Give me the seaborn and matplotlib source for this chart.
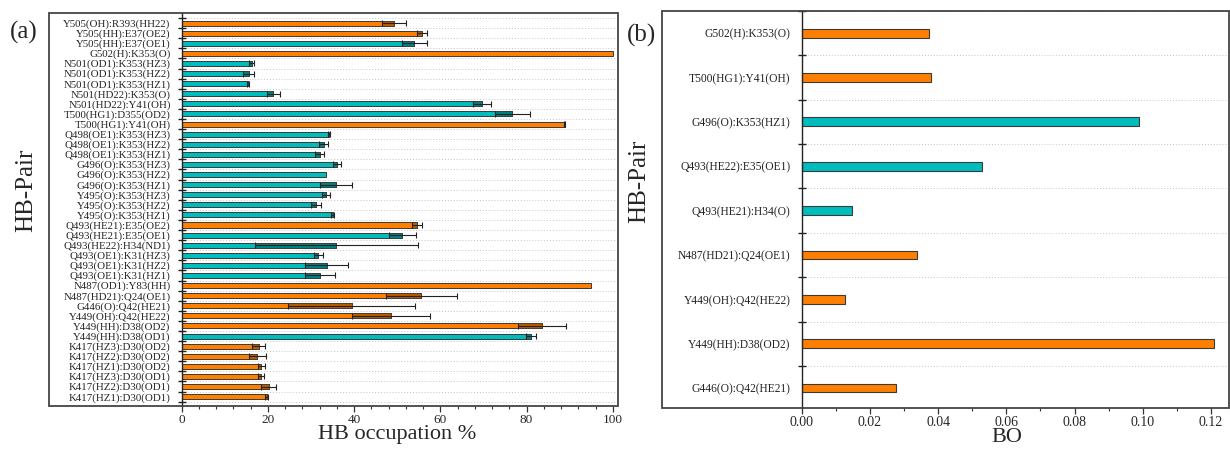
import numpy as np
import pandas as pd
import matplotlib
matplotlib.use("Agg")
import matplotlib.pyplot as plt
import seaborn as sns
from matplotlib.patches import Rectangle
from matplotlib.ticker import FixedLocator

# --- data (a) : HB occupation % (mean, std) ---
pairs_a = [
    "Y505(OH):R393(HH22)", "Y505(HH):E37(OE2)", "Y505(HH):E37(OE1)", "G502(H):K353(O)",
    "N501(OD1):K353(HZ3)", "N501(OD1):K353(HZ2)", "N501(OD1):K353(HZ1)", "N501(HD22):K353(O)",
    "N501(HD22):Y41(OH)", "T500(HG1):D355(OD2)", "T500(HG1):Y41(OH)", "Q498(OE1):K353(HZ3)",
    "Q498(OE1):K353(HZ2)", "Q498(OE1):K353(HZ1)", "G496(O):K353(HZ3)", "G496(O):K353(HZ2)",
    "G496(O):K353(HZ1)", "Y495(O):K353(HZ3)", "Y495(O):K353(HZ2)", "Y495(O):K353(HZ1)",
    "Q493(HE21):E35(OE2)", "Q493(HE21):E35(OE1)", "Q493(HE22):H34(ND1)", "Q493(OE1):K31(HZ3)",
    "Q493(OE1):K31(HZ2)", "Q493(OE1):K31(HZ1)", "N487(OD1):Y83(HH)", "N487(HD21):Q24(OE1)",
    "G446(O):Q42(HE21)", "Y449(OH):Q42(HE22)", "Y449(HH):D38(OD2)", "Y449(HH):D38(OD1)",
    "K417(HZ3):D30(OD2)", "K417(HZ2):D30(OD2)", "K417(HZ1):D30(OD2)", "K417(HZ3):D30(OD1)",
    "K417(HZ2):D30(OD1)", "K417(HZ1):D30(OD1)",
]
occ_mean = [49.3, 55.8, 54.0, 100.0, 16.2, 15.5, 15.4, 21.2, 69.6, 76.7, 88.8, 34.1,
            32.9, 32.0, 36.0, 33.4, 35.8, 33.4, 31.1, 35.0, 54.6, 51.2, 35.9, 31.7,
            33.6, 32.0, 95.0, 55.6, 39.4, 48.5, 83.6, 81.1, 17.9, 17.5, 18.5, 18.5,
            20.2, 19.7]
occ_std = [2.8, 1.2, 2.9, 0.0, 0.6, 1.2, 0.3, 1.5, 2.1, 4.0, 0.2, 0.2,
           1.0, 1.0, 0.9, 0.0, 3.8, 0.9, 1.1, 0.4, 1.2, 3.2, 19.0, 1.1,
           5.0, 3.5, 0.0, 8.3, 14.8, 9.0, 5.5, 1.2, 1.5, 2.0, 0.9, 0.7,
           1.7, 0.3]
group_a = ["o", "o", "t", "o", "t", "t", "t", "t", "t", "t", "o", "t",
           "t", "t", "t", "t", "t", "t", "t", "t", "o", "t", "t", "t",
           "t", "t", "o", "o", "o", "o", "o", "t", "o", "o", "o", "o",
           "o", "o"]

# --- data (b) : BO ---
pairs_b = ["G502(H):K353(O)", "T500(HG1):Y41(OH)", "G496(O):K353(HZ1)", "Q493(HE22):E35(OE1)",
           "Q493(HE21):H34(O)", "N487(HD21):Q24(OE1)", "Y449(OH):Q42(HE22)",
           "Y449(HH):D38(OD2)", "G446(O):Q42(HE21)"]
bo = [0.0372, 0.0380, 0.0990, 0.0528, 0.0148, 0.0337, 0.0126, 0.1210, 0.0276]
group_b = ["o", "o", "t", "t", "t", "o", "o", "o", "o"]

palette = {"o": "#FF8000", "t": "#00BDBD"}
dark = {"o": "#B85C00", "t": "#00807F"}
serif = ["Liberation Serif", "DejaVu Serif"]

sns.set_style("white")
plt.rcParams["font.family"] = serif

fig = plt.figure(figsize=(12.3, 4.51), dpi=100)
ax1 = fig.add_axes([0.0398, 0.0998, 0.4626, 0.8714])
ax2 = fig.add_axes([0.5382, 0.0953, 0.4610, 0.8803])


def style_axis(ax, n, xlim, ylim):
    ax.set_xlim(*xlim)
    ax.set_ylim(*ylim)
    for s in ["top", "right", "bottom"]:
        ax.spines[s].set_visible(False)
    ax.spines["left"].set_position(("data", 0))
    ax.spines["left"].set_color("#222222")
    ax.spines["left"].set_linewidth(1.0)
    # frame box
    ax.add_patch(Rectangle((0, 0), 1, 1, transform=ax.transAxes, fill=False,
                           lw=1.3, edgecolor="#444444", clip_on=False, zorder=5))
    bounds = np.arange(n + 1) - 0.5
    ax.hlines(bounds, 0, xlim[1], colors="#c4c4c4", linestyles=(0, (1, 2)), lw=0.7, zorder=0)
    ax.yaxis.set_minor_locator(FixedLocator(bounds))
    ax.tick_params(axis="y", which="major", left=True, length=0, pad=8)
    ax.tick_params(axis="y", which="minor", left=True, direction="inout", length=6,
                   width=1.0, color="#222222")
    ax.tick_params(axis="x", which="major", bottom=True, direction="out", length=4,
                   width=0.9, color="#333333", pad=1.5)
    ax.tick_params(axis="x", which="minor", bottom=True, direction="out", length=2.5,
                   width=0.8, color="#333333")
    ax.set_xlabel("")
    ax.set_ylabel("")


# ---------- (a) ----------
df_a = pd.DataFrame({"pair": pairs_a, "mean": occ_mean, "std": occ_std, "grp": group_a})
sns.barplot(data=df_a, x="mean", y="pair", hue="grp", palette=palette, order=pairs_a,
            dodge=False, width=0.5, orient="h", edgecolor="#3a3a3a", linewidth=0.7,
            saturation=1, legend=False, errorbar=None, ax=ax1)
pos_a = np.arange(len(pairs_a))
m = df_a["std"].values > 0
ax1.barh(pos_a[m], df_a["std"].values[m], left=(df_a["mean"] - df_a["std"]).values[m],
         height=0.5, color=[dark[g] for g in df_a["grp"].values[m]],
         edgecolor="#3a3a3a", linewidth=0.5, zorder=3)
ax1.errorbar(df_a["mean"].values[m], pos_a[m], xerr=df_a["std"].values[m], fmt="none",
             ecolor="#222222", elinewidth=0.8, capsize=2.2, capthick=0.8, zorder=4)
style_axis(ax1, len(pairs_a), (-30.8, 101.2), (37.93, -1.0))
ax1.set_xticks(range(0, 101, 20))
ax1.xaxis.set_minor_locator(FixedLocator(np.arange(0, 101, 4)))
ax1.tick_params(axis="x", labelsize=9.5)
ax1.tick_params(axis="y", labelsize=7.8)
ax1.set_yticks(pos_a)
ax1.set_yticklabels(pairs_a, color="#222222")
ax1.set_xlabel("HB occupation %", fontsize=16)
ax1.xaxis.set_label_coords((50 + 30.8) / 132.0, -0.048)
ax1.set_ylabel("HB-Pair", fontsize=18)
ax1.yaxis.set_label_coords(-0.021, 0.55)

# ---------- (b) ----------
df_b = pd.DataFrame({"pair": pairs_b, "bo": bo, "grp": group_b})
sns.barplot(data=df_b, x="bo", y="pair", hue="grp", palette=palette, order=pairs_b,
            dodge=False, width=0.2, orient="h", edgecolor="#3a3a3a", linewidth=0.8,
            saturation=1, legend=False, errorbar=None, ax=ax2)
style_axis(ax2, len(pairs_b), (-0.041, 0.1253), (8.45, -0.5))
ax2.set_xticks(np.arange(0, 0.121, 0.02))
ax2.set_xticklabels([f"{v:.2f}" for v in np.arange(0, 0.121, 0.02)])
ax2.xaxis.set_minor_locator(FixedLocator(np.arange(0, 0.1251, 0.01)))
ax2.tick_params(axis="x", labelsize=10)
ax2.tick_params(axis="y", labelsize=8.3)
ax2.set_yticks(np.arange(len(pairs_b)))
ax2.set_yticklabels(pairs_b, color="#222222")
ax2.set_xlabel("BO", fontsize=16)
ax2.xaxis.set_label_coords((0.041 + 0.06) / 0.1663, -0.05)
ax2.set_ylabel("HB-Pair", fontsize=18)
ax2.yaxis.set_label_coords(-0.02, 0.57)

fig.text(24 / 1230, 1 - 32 / 451, "(a)", fontsize=18, ha="center", va="center")
fig.text(641 / 1230, 1 - 35 / 451, "(b)", fontsize=18, ha="center", va="center")

fig.savefig("out.png", dpi=100)
